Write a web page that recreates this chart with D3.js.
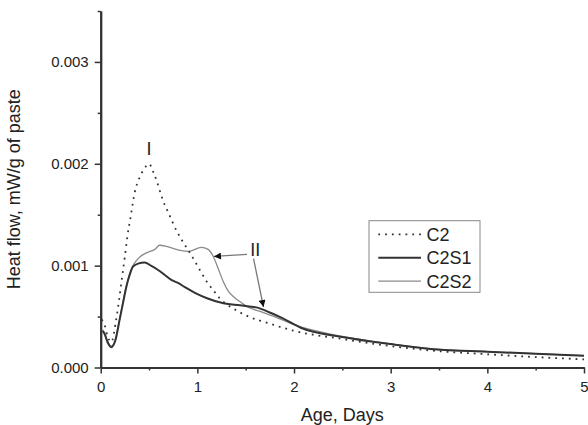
<!DOCTYPE html>
<html lang="en">
  <head>
    <meta charset="utf-8">
    <title>Heat flow</title>
    <script src="https://d3js.org/d3.v7.min.js"></script>
    <style>
      body { margin: 0; background: #fff; }
      svg text { font-family: "Liberation Sans", Arial, sans-serif; fill: #222; }
    </style>
  </head>

  <body>
    <div id='chart'></div>

    <script type='text/javascript'>
      // series (age in days, heat flow in mW/g of paste)
      let c2Age  = [0.01, 0.04, 0.07, 0.11, 0.16, 0.19, 0.22, 0.25, 0.275, 0.31, 0.35, 0.4, 0.45, 0.5,
                    0.544, 0.58, 0.613, 0.648, 0.7, 0.786, 0.84, 0.906, 0.976, 1.03, 1.1, 1.18,
                    1.23, 1.37, 1.53, 1.75, 2.0, 2.5, 3.0, 3.5, 4.0, 4.5, 5.0];
      let c2Flow = [0.00047, 0.00042, 0.00031, 0.00025, 0.00047, 0.00066, 0.00088, 0.00109, 0.00128,
                    0.00148, 0.00171, 0.00186, 0.00195, 0.002, 0.00192, 0.00183, 0.00173, 0.00163,
                    0.00152, 0.00134, 0.00125, 0.00115, 0.00104, 0.00095, 0.00084, 0.00074,
                    0.00068, 0.00058, 0.0005, 0.00043, 0.00036, 0.00028, 0.00021, 0.00016,
                    0.00013, 0.000102, 0.00008];

      let c2s1Age  = [0.02, 0.04, 0.07, 0.11, 0.15, 0.196, 0.23, 0.265, 0.3, 0.334, 0.386, 0.455,
                      0.52, 0.59, 0.66, 0.73, 0.8, 0.87, 0.98, 1.1, 1.27, 1.44, 1.61, 1.75, 1.89,
                      2.07, 2.5, 3.0, 3.44, 4.0, 4.5, 5.0];
      let c2s1Flow = [0.00036, 0.00033, 0.00025, 0.0002, 0.00026, 0.00047, 0.00063, 0.00079, 0.00091,
                      0.00099, 0.00102, 0.00103, 0.001, 0.00096, 0.00091, 0.00086, 0.00083, 0.00079,
                      0.00073, 0.00068, 0.00063, 0.00061, 0.00059, 0.00054, 0.00048, 0.00039,
                      0.0003, 0.00023, 0.00018, 0.000155, 0.000135, 0.000115];

      let c2s2Age  = [0.02, 0.04, 0.07, 0.11, 0.15, 0.196, 0.23, 0.265, 0.3, 0.334, 0.37, 0.41, 0.46,
                      0.51, 0.56, 0.61, 0.68, 0.82, 0.91, 1.04, 1.11, 1.165, 1.22, 1.27, 1.32,
                      1.38, 1.45, 1.51, 1.65, 1.82, 2.0, 2.5, 3.0, 3.44, 4.0, 4.5, 5.0];
      let c2s2Flow = [0.00037, 0.00034, 0.00026, 0.00021, 0.00027, 0.00048, 0.00064, 0.0008, 0.00092,
                      0.001, 0.00105, 0.00109, 0.00112, 0.00114, 0.00116, 0.0012, 0.00119, 0.00115,
                      0.00114, 0.00118, 0.00116, 0.00109, 0.00096, 0.00084, 0.00075, 0.00069,
                      0.00064, 0.0006, 0.00055, 0.00049, 0.00042, 0.000305, 0.000232, 0.000182,
                      0.000156, 0.000136, 0.000116];

      let seriesNames = ['C2', 'C2S1', 'C2S2'];
      let xTicks = [0, 1, 2, 3, 4, 5];
      let yTicks = [0, 0.001, 0.002, 0.003];

      let margin = {top: 11, right: 4, bottom: 57.5, left: 100.7}
      let width = 588 - margin.left - margin.right;
      let height = 425 - margin.top - margin.bottom;

      let svg = d3.select('#chart').append('svg')
        .attr('width', 588)
        .attr('height', 425)
      let canvas = svg.append('g')
        .attr('transform','translate('+margin.left+','+margin.top+')')

      let x = d3.scaleLinear().domain([0, 5]).range([0, width]);
      let y = d3.scaleLinear().domain([0, 0.0035]).range([height, 0]);

      // minor ticks first, then major ticks with labels
      canvas.append('g')
        .attr('transform','translate(0,'+height+')')
        .call(d3.axisBottom(x).tickValues(d3.range(0.5, 5, 1)).tickSize(3).tickSizeOuter(0).tickFormat(''))
      canvas.append('g')
        .attr('class','x-axis')
        .attr('transform','translate(0,'+height+')')
        .call(d3.axisBottom(x).tickValues(xTicks).tickSize(6).tickSizeOuter(0).tickPadding(8).tickFormat(d3.format('d')))
      canvas.append('g')
        .call(d3.axisLeft(y).tickValues([0.0005, 0.0015, 0.0025, 0.0035]).tickSize(3).tickSizeOuter(0).tickFormat(''))
      canvas.append('g')
        .attr('class','y-axis')
        .call(d3.axisLeft(y).tickValues(yTicks).tickSize(6).tickSizeOuter(0).tickPadding(6).tickFormat(d3.format('.3f')))

      canvas.selectAll('.domain').attr('stroke','#333').attr('stroke-width',2)
      canvas.selectAll('.tick line').attr('stroke','#333').attr('stroke-width',1.5)
      canvas.selectAll('.tick text').attr('font-size',15).attr('fill','#222')
        .attr('font-family','"Liberation Sans", Arial, sans-serif')

      svg.append('text')
        .attr('x', margin.left + width / 2)
        .attr('y', 420.5)
        .attr('text-anchor','middle')
        .attr('font-size',18)
        .text('Age, Days')
      svg.append('text')
        .attr('transform','translate(20,'+(margin.top + height / 2)+') rotate(-90)')
        .attr('text-anchor','middle')
        .attr('font-size',18)
        .text('Heat flow, mW/g of paste')

      let line = d3.line()
        .x(d => x(d[0]))
        .y(d => y(d[1]))
        .curve(d3.curveMonotoneX)

      let styles = [
        {stroke: '#333', width: 1.8, dash: '1.8,5'},
        {stroke: '#333', width: 2, dash: null},
        {stroke: '#8a8a8a', width: 1.3, dash: null}
      ]
      let series = [
        d3.zip(c2Age, c2Flow),
        d3.zip(c2s1Age, c2s1Flow),
        d3.zip(c2s2Age, c2s2Flow)
      ]

      // draw gray first so the dark curves sit on top
      ;[2, 0, 1].forEach(i => {
        canvas.append('path')
          .datum(series[i])
          .attr('fill','none')
          .attr('stroke', styles[i].stroke)
          .attr('stroke-width', styles[i].width)
          .attr('stroke-dasharray', styles[i].dash)
          .attr('d', line)
      })

      // annotations, placed in data units
      canvas.append('text')
        .attr('x', x(0.5)).attr('y', y(0.00209))
        .attr('text-anchor','middle').attr('font-size',18)
        .text('I')
      canvas.append('text')
        .attr('x', x(1.6)).attr('y', y(0.00109))
        .attr('text-anchor','middle').attr('font-size',18)
        .text('II')

      svg.append('defs').append('marker')
        .attr('id','head')
        .attr('viewBox','0 0 10 10')
        .attr('refX',10).attr('refY',5)
        .attr('markerWidth',9).attr('markerHeight',7)
        .attr('markerUnits','userSpaceOnUse')
        .attr('orient','auto')
        .append('path')
        .attr('d','M0,0 L10,5 L0,10 z')
        .attr('fill','#111')

      let arrows = [
        [[1.514, 0.00111], [1.172, 0.00109]],
        [[1.581, 0.00107], [1.684, 0.000594]]
      ]
      canvas.selectAll('.arrow')
        .data(arrows)
        .enter()
        .append('line')
        .attr('class','arrow')
        .attr('x1', d => x(d[0][0])).attr('y1', d => y(d[0][1]))
        .attr('x2', d => x(d[1][0])).attr('y2', d => y(d[1][1]))
        .attr('stroke','#777')
        .attr('stroke-width',1.3)
        .attr('marker-end','url(#head)')

      // legend
      let legend = svg.append('g').attr('transform','translate(369,220.7)')
      legend.append('rect')
        .attr('width',111).attr('height',71.6)
        .attr('fill','#fff').attr('stroke','#888').attr('stroke-width',1)
      let rows = legend.selectAll('.row')
        .data(seriesNames)
        .enter()
        .append('g')
        .attr('transform', (d,i) => 'translate(0,'+(13.6 + i * 23.4)+')')
      rows.append('line')
        .attr('x1',9.3).attr('x2',52)
        .attr('stroke', (d,i) => styles[i].stroke)
        .attr('stroke-width', (d,i) => styles[i].width)
        .attr('stroke-dasharray', (d,i) => styles[i].dash)
      rows.append('text')
        .attr('x',57.5).attr('dy','0.36em')
        .attr('font-size',18)
        .text(d => d)
    </script>
  </body>
</html>
